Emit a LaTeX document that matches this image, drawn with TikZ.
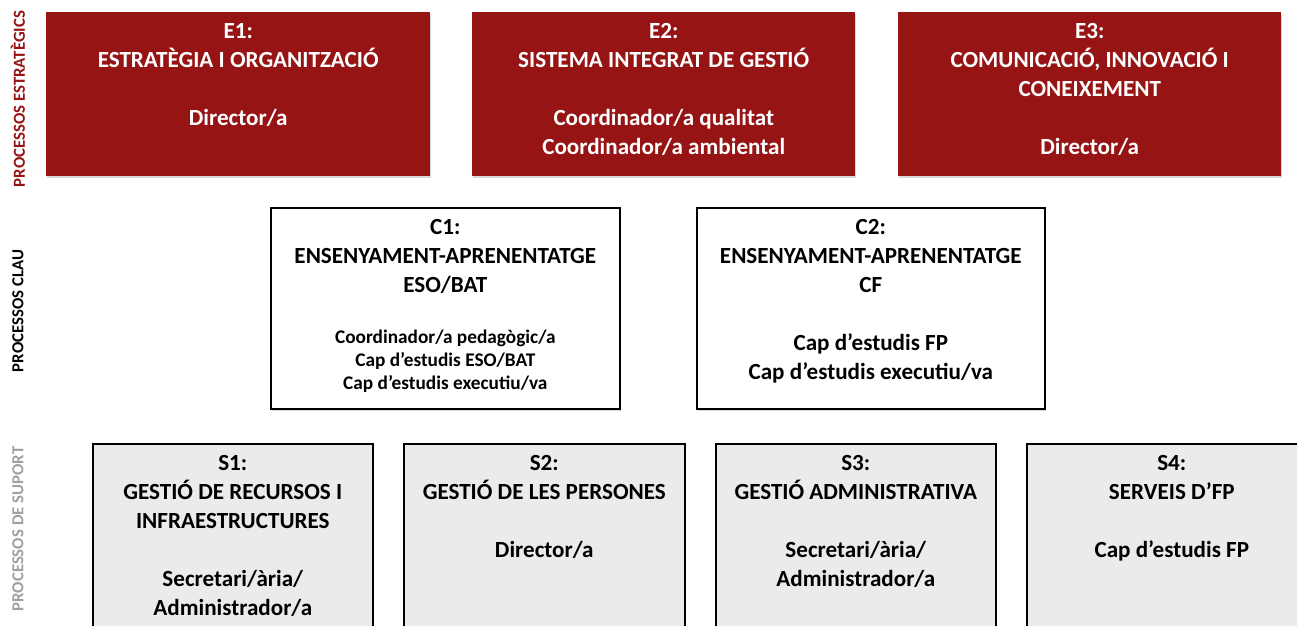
\documentclass[tikz,border=0pt]{standalone}
\usepackage{fontspec}
\setmainfont{Carlito}
\usetikzlibrary{shadows}
\definecolor{estred}{RGB}{150,20,20}
\definecolor{supgray}{RGB}{235,235,235}
\definecolor{labgray}{RGB}{160,160,160}
\newcommand{\firststrut}{\rule{0pt}{20.5pt}}
\newcommand{\smallstrut}{\rule{0pt}{17pt}}
\begin{document}
\begin{tikzpicture}[x=1pt,y=-1pt,
  softshadow/.style={drop shadow={opacity=0.25,shadow xshift=1pt,shadow yshift=-2pt,fill=black!60}},
  ebox/.style={fill=estred,draw=none,softshadow,anchor=north west,inner sep=0pt},
  cbox/.style={fill=white,draw=black,line width=1.6pt,softshadow,anchor=north west,inner sep=0pt},
  sbox/.style={fill=supgray,draw=black,line width=1.6pt,softshadow,anchor=north west,inner sep=0pt},
  btext/.style={anchor=north,inner sep=0pt,align=center,font=\fontsize{23.1}{29}\selectfont\bfseries},
  stext/.style={anchor=north,inner sep=0pt,align=center,font=\fontsize{19.3}{23.3}\selectfont\bfseries},
  side/.style={rotate=90,inner sep=0pt,font=\fontsize{16.8}{19}\selectfont\bfseries}]
\clip (0,0) rectangle (1297,625);
\fill[white] (0,0) rectangle (1297,625);

% strategic
\node[ebox,minimum width=384pt,minimum height=164pt] (E1) at (46,12) {};
\node[ebox,minimum width=383pt,minimum height=164pt] (E2) at (472,12) {};
\node[ebox,minimum width=383pt,minimum height=164pt] (E3) at (898,12) {};
\node[btext,text=white] (E1t) at ([yshift=-5.5pt]E1.north) {\firststrut E1:\\ ESTRATÈGIA I ORGANITZACIÓ\\[29pt] Director/a};
\node[btext,text=white] (E2t) at ([yshift=-5.5pt]E2.north) {\firststrut E2:\\ SISTEMA INTEGRAT DE GESTIÓ\\[29pt] Coordinador/a qualitat\\ Coordinador/a ambiental};
\node[btext,text=white] (E3t) at ([yshift=-5.5pt]E3.north) {\firststrut E3:\\ COMUNICACIÓ, INNOVACIÓ I\\ CONEIXEMENT\\[29pt] Director/a};

% key
\node[cbox,minimum width=349pt,minimum height=201pt] (C1) at (270,207) {};
\node[cbox,minimum width=348pt,minimum height=201pt] (C2) at (696,207) {};
\node[btext] (C1t) at ([yshift=-6.5pt]C1.north) {\firststrut C1:\\ ENSENYAMENT-APRENENTATGE\\ ESO/BAT};
\node[stext] (C1r) at ([yshift=-119pt]C1.north) {\smallstrut Coordinador/a pedagògic/a\\ Cap d’estudis ESO/BAT\\ Cap d’estudis executiu/va};
\node[btext] (C2t) at ([yshift=-6.5pt]C2.north) {\firststrut C2:\\ ENSENYAMENT-APRENENTATGE\\ CF\\[29pt] Cap d’estudis FP\\ Cap d’estudis executiu/va};

% support
\node[sbox,minimum width=280pt,minimum height=200pt] (S1) at (92,443) {};
\node[sbox,minimum width=281pt,minimum height=200pt] (S2) at (403,443) {};
\node[sbox,minimum width=280pt,minimum height=200pt] (S3) at (715,443) {};
\node[sbox,minimum width=290pt,minimum height=200pt] (S4) at (1026,443) {};
\node[btext] (S1t) at ([yshift=-7pt]S1.north) {\firststrut S1:\\ GESTIÓ DE RECURSOS I\\ INFRAESTRUCTURES\\[29pt] Secretari/ària/\\ Administrador/a};
\node[btext] (S2t) at ([yshift=-7pt]S2.north) {\firststrut S2:\\ GESTIÓ DE LES PERSONES\\[29pt] Director/a};
\node[btext] (S3t) at ([yshift=-7pt]S3.north) {\firststrut S3:\\ GESTIÓ ADMINISTRATIVA\\[29pt] Secretari/ària/\\ Administrador/a};
\node[btext] (S4t) at ([yshift=-7pt]S4.north) {\firststrut S4:\\ SERVEIS D’FP\\[29pt] Cap d’estudis FP};

% side labels
\node[side,text=estred] (LE) at (18,99) {PROCESSOS ESTRATÈGICS};
\node[side,text=black] (LC) at (18,311) {PROCESSOS CLAU};
\node[side,text=labgray] (LS) at (18,529) {PROCESSOS DE SUPORT};
\end{tikzpicture}
\end{document}
